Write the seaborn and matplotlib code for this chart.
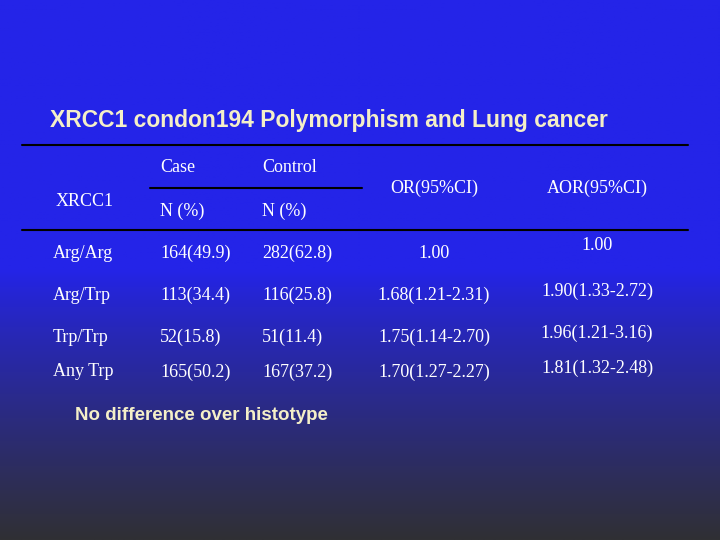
import numpy as np
import matplotlib
matplotlib.use("Agg")
import matplotlib.pyplot as plt
import seaborn as sns

title = "XRCC1 condon194 Polymorphism and Lung cancer"
genotypes = ["Arg/Arg", "Arg/Trp", "Trp/Trp", "Any Trp"]
case_n = ["164(49.9)", "113(34.4)", "52(15.8)", "165(50.2)"]
control_n = ["282(62.8)", "116(25.8)", "51(11.4)", "167(37.2)"]
or_ci = ["1.00", "1.68(1.21-2.31)", "1.75(1.14-2.70)", "1.70(1.27-2.27)"]
aor_ci = ["1.00", "1.90(1.33-2.72)", "1.96(1.21-3.16)", "1.81(1.32-2.48)"]
note = "No difference over histotype"

sns.set_theme(style="white")
fig = plt.figure(figsize=(7.2, 5.4), dpi=100)
ax = fig.add_axes([0, 0, 1, 1])
ax.set_xlim(0, 720)
ax.set_ylim(540, 0)
ax.axis("off")

# background gradient blue -> dark grey
t = np.linspace(0, 1, 256)[:, None]
top = np.array([36, 36, 232]) / 255
bot = np.array([48, 48, 52]) / 255
w = np.clip((t - 0.5) / 0.5, 0, 1) ** 0.9
grad = (1 - w)[..., None] * top + w[..., None] * bot
grad = np.repeat(grad, 2, axis=1)
ax.imshow(grad, extent=[0, 720, 540, 0], aspect="auto", zorder=0)

ax.text(50, 120, title, color="#f4efc8", fontsize=16.5, fontweight="bold",
        family="Liberation Sans", va="center", ha="left")

for y, x0, x1 in [(145, 22, 688), (230, 22, 688), (188, 150, 362)]:
    ax.plot([x0, x1], [y, y], color="black", lw=1.5, zorder=2)

serif = dict(color="white", fontsize=13, fontweight="normal",
             family="Liberation Serif", va="center")
ax.text(160, 168, "Case", ha="left", **serif)
ax.text(262, 168, "Control", ha="left", **serif)
ax.text(56, 201, "XRCC1", ha="left", **serif)
ax.text(160, 211, "N (%)", ha="left", **serif)
ax.text(262, 211, "N (%)", ha="left", **serif)
ax.text(434, 188, "OR(95%CI)", ha="center", **serif)
ax.text(597, 188, "AOR(95%CI)", ha="center", **serif)

rows_y = [253, 295, 337, 372]
for i, y in enumerate(rows_y):
    ax.text(53, y, genotypes[i], ha="left", **serif)
    ax.text(160, y, case_n[i], ha="left", **serif)
    ax.text(262, y, control_n[i], ha="left", **serif)
    ax.text(434, y, or_ci[i], ha="center", **serif)
    ax.text(597, y - (7 if i == 0 else 4), aor_ci[i], ha="center", **serif)

ax.text(75, 416, note, color="#f4efc8", fontsize=13.5, fontweight="bold",
        family="Liberation Sans", va="center", ha="left")

fig.savefig("out.png", dpi=100)
